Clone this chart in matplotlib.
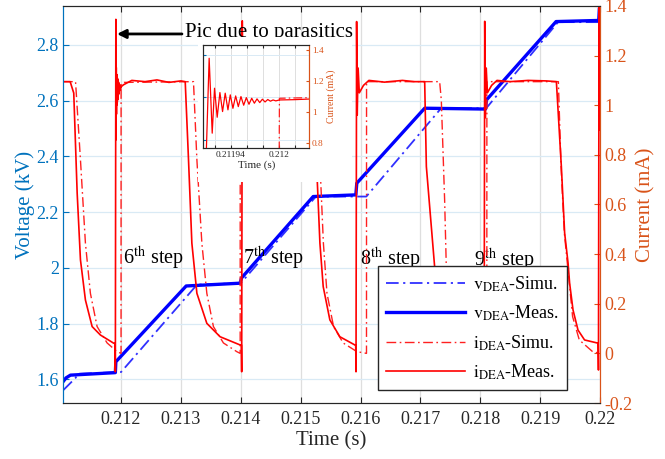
import matplotlib.pyplot as plt
from matplotlib.patches import Rectangle

plt.rcParams['font.family'] = ['Liberation Serif', 'DejaVu Serif']
plt.rcParams['mathtext.fontset'] = 'stix'

# ---- data ----
# DEA voltage (kV)
t_v_meas = [0.21103, 0.21108, 0.211155, 0.211905, 0.211913, 0.213088, 0.213988,
            0.214013, 0.215210, 0.215922, 0.215938, 0.217072, 0.218088, 0.218105,
            0.219267, 0.219980, 0.219990, 0.220000]
v_meas = [1.591, 1.605, 1.615, 1.624, 1.663, 1.935, 1.945,
          1.964, 2.256, 2.262, 2.304, 2.573, 2.570, 2.603,
          2.884, 2.888, 2.932, 2.935]

t_v_sim = [0.21103, 0.21124, 0.21128, 0.21200, 0.21327, 0.21400, 0.215255,
           0.216097, 0.217347, 0.21810, 0.21930, 0.22]
v_sim = [1.560, 1.605, 1.620, 1.626, 1.940, 1.945, 2.256,
         2.256, 2.573, 2.573, 2.882, 2.882]

# DEA current (mA)
t_i_meas = [0.21103, 0.21115, 0.21121, 0.211267, 0.211322, 0.211405, 0.211517, 0.211655, 0.211877, 0.2119,
            0.211905, 0.2119133, 0.2119171, 0.21192, 0.2119233, 0.2119267, 0.21193, 0.2119333,
            0.2119367, 0.2119396, 0.2119429, 0.2119463, 0.2119496, 0.2119529, 0.2119563, 0.2119596,
            0.2119629, 0.2119663, 0.2119696, 0.2119729, 0.2119763, 0.2119796, 0.2119829, 0.2119863,
            0.2119896, 0.2119929, 0.2119963, 0.2120008, 0.212020, 0.212038, 0.21210, 0.21218,
            0.2124, 0.2126, 0.2128, 0.2130, 0.213072,
            0.213127, 0.213183, 0.213267, 0.213433, 0.213655, 0.213988,
            0.21401, 0.214015, 0.214025, 0.214035, 0.21405, 0.21408, 0.21415,
            0.2145, 0.2149, 0.215237,
            0.215277, 0.215322, 0.215377, 0.215488, 0.215655, 0.215905,
            0.21592, 0.215925, 0.215935, 0.215945, 0.21596, 0.21598, 0.21605, 0.21614,
            0.2164, 0.2167, 0.2169, 0.217072,
            0.2171, 0.217238, 0.2174, 0.2176, 0.2178, 0.21805,
            0.21806, 0.218065, 0.218075, 0.218085, 0.2181, 0.21812, 0.21819, 0.21828,
            0.2185, 0.2188, 0.2191, 0.219272,
            0.219355, 0.21941, 0.219467, 0.219493, 0.21955, 0.219633, 0.219743, 0.21997,
            0.219975, 0.219985, 0.219992, 0.22]
i_meas = [1.095, 1.095, 1.049, 0.646, 0.377, 0.215, 0.108, 0.074, 0.041, 0.040,
          -0.074, 1.346, 0.861, 1.152, 0.964, 1.124, 1.001, 1.120,
          1.012, 1.109, 1.022, 1.102, 1.033, 1.098, 1.042, 1.091,
          1.048, 1.087, 1.055, 1.083, 1.059, 1.081, 1.063, 1.079,
          1.068, 1.076, 1.070, 1.076, 1.078, 1.082, 1.090, 1.100,
          1.095, 1.102, 1.092, 1.098, 1.095,
          0.78, 0.444, 0.242, 0.121, 0.067, 0.034,
          0.034, -0.074, 1.34, 0.95, 1.15, 1.06, 1.09,
          1.10, 1.093, 1.095,
          0.70, 0.444, 0.269, 0.135, 0.067, 0.034,
          0.034, -0.074, 1.337, 0.96, 1.15, 1.05, 1.08, 1.10,
          1.093, 1.10, 1.095, 1.095,
          0.753, 0.35, 0.16, 0.08, 0.05, 0.034,
          0.034, -0.054, 1.338, 0.95, 1.15, 1.05, 1.08, 1.10,
          1.095, 1.10, 1.098, 1.095,
          0.753, 0.485, 0.364, 0.283, 0.175, 0.094, 0.054, 0.041,
          -0.067, 1.45, 0.9, 1.15]

t_i_sim = [0.21103, 0.21124, 0.211322, 0.211405, 0.211488, 0.2116, 0.211767, 0.211933, 0.2120,
           0.2120008, 0.21205, 0.21321,
           0.213267, 0.21335, 0.213433, 0.213543, 0.21371, 0.213933, 0.21399, 0.213991, 0.21524,
           0.21532, 0.21538, 0.21544, 0.21555, 0.21571, 0.21594, 0.2161, 0.216101, 0.217322,
           0.21735, 0.217405, 0.217433, 0.2176, 0.21775, 0.21795, 0.21811, 0.218111, 0.219305,
           0.21935, 0.219405, 0.219488, 0.219543, 0.219655, 0.219877, 0.22]
i_sim = [1.095, 1.095, 0.78, 0.444, 0.242, 0.108, 0.042, 0.007, 0.0,
         1.087, 1.092, 1.095,
         0.78, 0.444, 0.242, 0.108, 0.042, 0.007, 0.0, 1.095, 1.095,
         0.78, 0.444, 0.242, 0.108, 0.042, 0.007, 0.0, 1.095, 1.095,
         1.02, 0.62, 0.35, 0.108, 0.042, 0.007, 0.0, 1.095, 1.095,
         0.753, 0.485, 0.283, 0.148, 0.054, 0.007, 0.0]

step_names = ['6', '7', '8', '9']
step_t = [0.212038, 0.214043, 0.215998, 0.217893]
step_v = [2.014, 2.014, 2.010, 2.004]

x_ticks = [0.212, 0.213, 0.214, 0.215, 0.216, 0.217, 0.218, 0.219, 0.22]
v_ticks = [1.6, 1.8, 2.0, 2.2, 2.4, 2.6, 2.8]
i_ticks = [-0.2, 0, 0.2, 0.4, 0.6, 0.8, 1.0, 1.2, 1.4]

inset_ticks = [0.21192, 0.21194, 0.21196, 0.21198, 0.212, 0.21202]
inset_labels = ['', '0.21194', '', '', '0.212', '']
inset_i_ticks = [0.8, 1.0, 1.2, 1.4]

BLUE_AX = '#0072BD'
ORANGE_AX = '#D95319'
DARK = '#262626'
DASHDOT = (0, (7, 2.5, 1.2, 2.5))

fmt = lambda v, p: '%g' % round(v, 6)

fig = plt.figure(figsize=(6.65, 4.59), dpi=100)
ax = fig.add_axes([0.0947, 0.122, 0.8075, 0.865])
ax2 = ax.twinx()

l1, = ax.plot(t_v_sim, v_sim, color='#3030ff', lw=1.3, ls=DASHDOT)
l2, = ax.plot(t_v_meas, v_meas, color='#0000ff', lw=2.4)
l3, = ax2.plot(t_i_sim, i_sim, color='#ff2020', lw=1.0, ls=DASHDOT)
l4, = ax2.plot(t_i_meas, i_meas, color='#ff0000', lw=1.2)

ax.set_xlim(0.21103, 0.22)
ax.set_ylim(1.515, 2.94)
ax2.set_ylim(-0.2, 1.4)

ax.set_xticks(x_ticks)
ax.set_yticks(v_ticks)
ax2.set_yticks(i_ticks)
ax.xaxis.set_major_formatter(plt.FuncFormatter(fmt))
ax.yaxis.set_major_formatter(plt.FuncFormatter(fmt))
ax2.yaxis.set_major_formatter(plt.FuncFormatter(fmt))

ax.grid(axis='y', color='#d9eaf5', lw=0.9)
ax.grid(axis='x', color='#dedede', lw=0.9)
ax.set_axisbelow(True)

ax.tick_params(direction='in', length=4, top=True, right=False, labelsize=13)
ax.tick_params(axis='x', colors=DARK, pad=6)
ax.tick_params(axis='y', colors=BLUE_AX, pad=3)
ax2.tick_params(axis='y', direction='in', length=4, colors=ORANGE_AX, labelsize=13, pad=3)

for a in (ax, ax2):
    a.spines['top'].set_color(DARK)
    a.spines['bottom'].set_color(DARK)
    a.spines['left'].set_color(BLUE_AX)
    a.spines['right'].set_color(ORANGE_AX)

ax.set_xlabel('Time (s)', fontsize=15, color=DARK, labelpad=2)
ax.set_ylabel('Voltage (kV)', fontsize=15, color=BLUE_AX, labelpad=1)
ax2.set_ylabel('Current (mA)', fontsize=15, color=ORANGE_AX, labelpad=3)

for n, t, v in zip(step_names, step_t, step_v):
    ax.text(t, v, n + r'$^{\mathrm{th}}$ step', fontsize=14.5, va='baseline', ha='left')

ax2.annotate('', xy=(0.1006, 0.9295), xytext=(0.2216, 0.9295), xycoords='axes fraction',
             arrowprops=dict(arrowstyle='-|>', color='k', lw=2, mutation_scale=13,
                             shrinkA=0, shrinkB=0))
ax2.text(0.2272, 0.922, 'Pic due to parasitics', transform=ax2.transAxes,
         fontsize=15, va='baseline', ha='left')

labels = [r'$\mathrm{v}_{\mathrm{DEA}}$-Simu.', r'$\mathrm{v}_{\mathrm{DEA}}$-Meas.',
          r'$\mathrm{i}_{\mathrm{DEA}}$-Simu.', r'$\mathrm{i}_{\mathrm{DEA}}$-Meas.']
leg = ax2.legend([l1, l2, l3, l4], labels, loc='upper right', bbox_to_anchor=(0.9385, 0.345),
                 fontsize=13, frameon=True, fancybox=False, edgecolor=DARK, framealpha=1,
                 handlelength=4.4, labelspacing=0.56, borderpad=0.45, borderaxespad=0,
                 handletextpad=0.4)
leg.get_frame().set_linewidth(1.0)

# white area behind the zoom window
fig.add_artist(Rectangle((0.2977, 0.6035), 0.2316, 0.316, transform=fig.transFigure,
                         facecolor='white', edgecolor='none', zorder=1))

ax_in = fig.add_axes([0.3057, 0.6769, 0.1594, 0.2251], zorder=3)
ax_in_r = ax_in.twinx()
ax_in_r.set_zorder(4)
ax_in_r.plot(t_i_sim, i_sim, color='#ff2020', lw=0.9, ls=DASHDOT)
ax_in_r.plot(t_i_meas, i_meas, color='#ff0000', lw=0.9)
ax_in.set_xlim(0.211906, 0.212038)
ax_in.set_ylim(0.763, 1.432)
ax_in_r.set_ylim(0.763, 1.432)
ax_in.set_xticks(inset_ticks, labels=inset_labels)
ax_in.set_yticks([0.817, 1.098, 1.368], labels=['', '', ''])
ax_in_r.set_yticks(inset_i_ticks)
ax_in_r.yaxis.set_major_formatter(plt.FuncFormatter(fmt))
ax_in.grid(axis='x', color='#dedede', lw=0.7)
ax_in.grid(axis='y', color='#d9eaf5', lw=0.7)
ax_in.tick_params(direction='in', length=2, labelsize=6.7, top=True, colors=DARK, pad=2)
ax_in.tick_params(axis='y', colors=BLUE_AX)
ax_in_r.tick_params(axis='y', direction='in', length=2, labelsize=6.7, colors=ORANGE_AX, pad=2)
for a in (ax_in, ax_in_r):
    a.spines['top'].set_color(DARK)
    a.spines['bottom'].set_color(DARK)
    a.spines['left'].set_color(DARK)
    a.spines['right'].set_color(ORANGE_AX)
    for s in a.spines.values():
        s.set_linewidth(0.8)
ax_in.set_xlabel('Time (s)', fontsize=8, color=DARK, labelpad=1)
ax_in_r.set_ylabel('Current (mA)', fontsize=7, color=ORANGE_AX, labelpad=2)

fig.savefig('out.png', dpi=100)
